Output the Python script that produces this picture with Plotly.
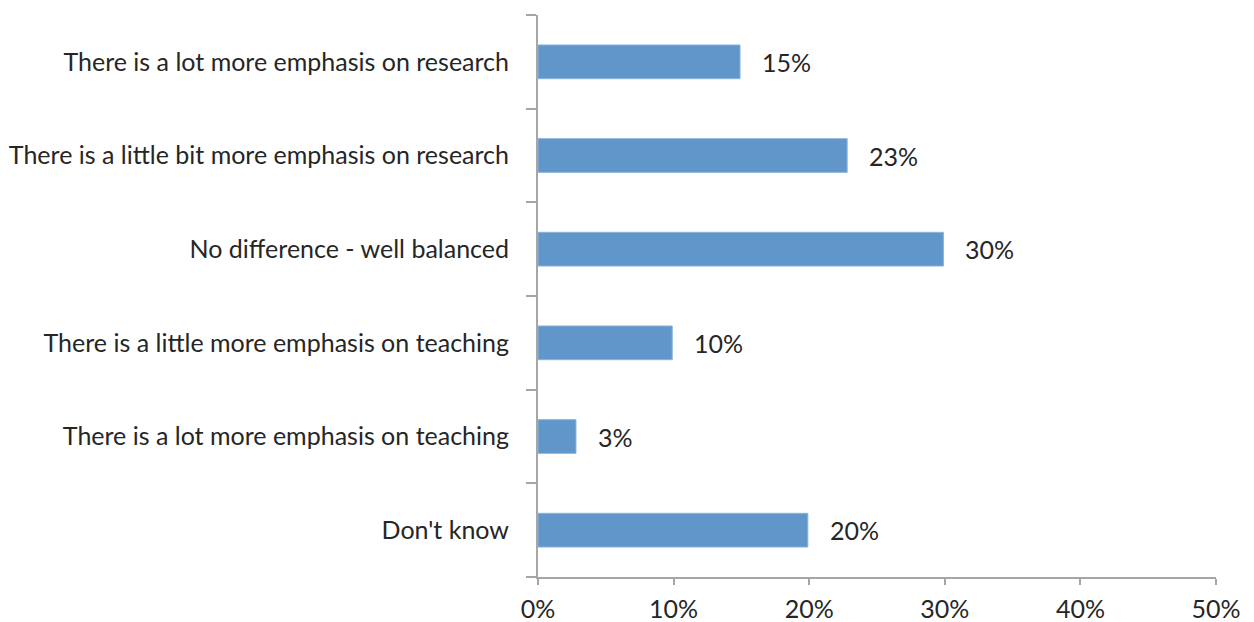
import plotly.graph_objects as go

categories = [
    "There is a lot more emphasis on research",
    "There is a little bit more emphasis on research",
    "No difference - well balanced",
    "There is a little more emphasis on teaching",
    "There is a lot more emphasis on teaching",
    "Don't know",
]
values = [0.149, 0.228, 0.299, 0.099, 0.028, 0.199]
labels = ["15%", "23%", "30%", "10%", "3%", "20%"]
x_ticks = [0, 0.1, 0.2, 0.3, 0.4, 0.5]
x_tick_labels = ["0%", "10%", "20%", "30%", "40%", "50%"]

font_family = "Lato, Open Sans, sans-serif"
font_size = 25
text_color = "#262626"
axis_color = "#A6A6A6"

fig = go.Figure()
fig.add_trace(go.Bar(
    x=values,
    y=categories,
    orientation="h",
    width=0.36,
    marker=dict(color="#6096CA", line=dict(color="#8DB3DA", width=1)),
    hoverinfo="skip",
))

for v, c, t in zip(values, categories, labels):
    fig.add_annotation(
        x=v, y=c, text=t, showarrow=False,
        xanchor="left", xshift=20,
        font=dict(family=font_family, size=font_size, color=text_color),
    )

fig.update_layout(
    width=1246, height=614,
    margin=dict(l=530, r=38, t=7, b=45),
    paper_bgcolor="white", plot_bgcolor="white",
    showlegend=False,
    font=dict(family=font_family, size=font_size, color=text_color),
)
fig.update_xaxes(
    range=[0, 0.5],
    tickvals=x_ticks, ticktext=x_tick_labels,
    showgrid=False, zeroline=False, automargin=False,
    showline=True, linecolor=axis_color, linewidth=2,
    ticks="outside", ticklen=6, tickcolor=axis_color, tickwidth=2,
    ticklabelstandoff=3,
    tickfont=dict(family=font_family, size=font_size, color=text_color),
)
fig.update_yaxes(
    categoryorder="array", categoryarray=categories[::-1],
    tickson="boundaries",
    showgrid=False, zeroline=False, automargin=False,
    showline=True, linecolor=axis_color, linewidth=2,
    ticks="outside", ticklen=10, tickcolor=axis_color, tickwidth=2,
    ticklabelstandoff=22,
    tickfont=dict(family=font_family, size=font_size, color=text_color),
)

fig.write_html("out.html")
